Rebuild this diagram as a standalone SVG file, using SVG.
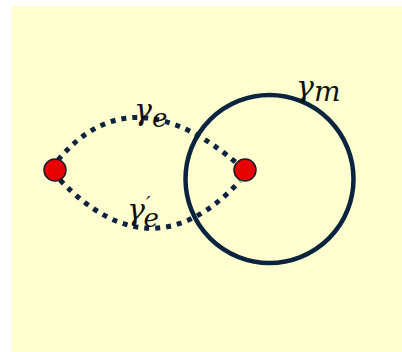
<svg xmlns="http://www.w3.org/2000/svg" width="402" height="352" viewBox="0 0 402 352">
<style>
.lbl{font-family:"DejaVu Serif","Liberation Serif",serif;font-style:italic;fill:#111;}
.dash{fill:none;stroke:#0d2340;stroke-width:5;stroke-dasharray:5 6;}
.dot{fill:#e80000;stroke:#1a1a2a;stroke-width:1.5;}
</style>
<rect x="0" y="0" width="402" height="352" fill="#ffffff"/>
<rect x="12" y="6" width="390" height="346" fill="#ffffd0"/>
<g id="connectors">
<path class="dash" d="M58,160 Q132,72 240,166"/>
<path class="dash" d="M60,180 Q152,276 240,181"/>
</g>
<g id="loop-m">
<circle cx="269.5" cy="179" r="84" fill="none" stroke="#0a2440" stroke-width="4.5"/>
</g>
<g id="charge-left"><circle class="dot" cx="55" cy="170" r="11"/></g>
<g id="charge-right"><circle class="dot" cx="245" cy="170" r="11"/></g>
<g id="label-ge"><text class="lbl" x="134" y="120" font-size="30">γ<tspan font-size="26" dy="7">e</tspan></text></g>
<g id="label-ge2"><text class="lbl" x="127" y="220" font-size="30">γ<tspan font-size="20" dx="1" dy="-9">′</tspan><tspan font-size="26" dx="-7" dy="16">e</tspan></text></g>
<g id="label-gm"><text class="lbl" x="296" y="97" font-size="30">γ<tspan font-size="28" dy="4">m</tspan></text></g>
</svg>
